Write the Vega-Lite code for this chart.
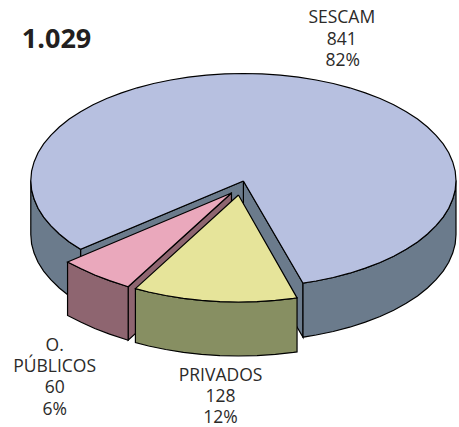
{"$schema":"https://vega.github.io/schema/vega-lite/v6.json","width":459,"height":427,"padding":0,"autosize":{"type":"fit","contains":"padding"},"background":"white","view":{"stroke":null},
"datasets":{"faces":[
{"p":"w4","c":"wall","i":1,"x":245,"y":181},{"p":"w4","c":"wall","i":2,"x":305,"y":283.2},{"p":"w4","c":"wall","i":3,"x":305,"y":337.2},{"p":"w4","c":"wall","i":4,"x":245,"y":235},{"p":"w4","c":"wall","i":5,"x":245,"y":181},
{"p":"w3","c":"wall","i":1,"x":245,"y":181},{"p":"w3","c":"wall","i":2,"x":81.1,"y":249.3},{"p":"w3","c":"wall","i":3,"x":81.1,"y":303.3},{"p":"w3","c":"wall","i":4,"x":245,"y":235},{"p":"w3","c":"wall","i":5,"x":245,"y":181},
{"p":"w1","c":"wall","i":1,"x":305,"y":283.2},{"p":"w1","c":"wall","i":2,"x":318.2,"y":281},{"p":"w1","c":"wall","i":3,"x":335.4,"y":277.5},{"p":"w1","c":"wall","i":4,"x":352,"y":273.2},{"p":"w1","c":"wall","i":5,"x":367.7,"y":268.1},{"p":"w1","c":"wall","i":6,"x":382.6,"y":262.5},{"p":"w1","c":"wall","i":7,"x":396.3,"y":256.2},{"p":"w1","c":"wall","i":8,"x":408.9,"y":249.3},{"p":"w1","c":"wall","i":9,"x":420.3,"y":241.9},{"p":"w1","c":"wall","i":10,"x":430.3,"y":234},{"p":"w1","c":"wall","i":11,"x":438.9,"y":225.7},{"p":"w1","c":"wall","i":12,"x":446.1,"y":217.1},{"p":"w1","c":"wall","i":13,"x":451.7,"y":208.2},{"p":"w1","c":"wall","i":14,"x":455.7,"y":199.1},{"p":"w1","c":"wall","i":15,"x":458.2,"y":189.8},{"p":"w1","c":"wall","i":16,"x":459,"y":180.5},{"p":"w1","c":"wall","i":17,"x":459,"y":234.5},{"p":"w1","c":"wall","i":18,"x":458.2,"y":243.8},{"p":"w1","c":"wall","i":19,"x":455.7,"y":253.1},{"p":"w1","c":"wall","i":20,"x":451.7,"y":262.2},{"p":"w1","c":"wall","i":21,"x":446.1,"y":271.1},{"p":"w1","c":"wall","i":22,"x":438.9,"y":279.7},{"p":"w1","c":"wall","i":23,"x":430.3,"y":288},{"p":"w1","c":"wall","i":24,"x":420.3,"y":295.9},{"p":"w1","c":"wall","i":25,"x":408.9,"y":303.3},{"p":"w1","c":"wall","i":26,"x":396.3,"y":310.2},{"p":"w1","c":"wall","i":27,"x":382.6,"y":316.5},{"p":"w1","c":"wall","i":28,"x":367.7,"y":322.1},{"p":"w1","c":"wall","i":29,"x":352,"y":327.2},{"p":"w1","c":"wall","i":30,"x":335.4,"y":331.5},{"p":"w1","c":"wall","i":31,"x":318.2,"y":335},{"p":"w1","c":"wall","i":32,"x":305,"y":337.2},{"p":"w1","c":"wall","i":33,"x":305,"y":283.2},
{"p":"w2","c":"wall","i":1,"x":31,"y":180.5},{"p":"w2","c":"wall","i":2,"x":31.8,"y":189.8},{"p":"w2","c":"wall","i":3,"x":34.3,"y":199.1},{"p":"w2","c":"wall","i":4,"x":38.3,"y":208.2},{"p":"w2","c":"wall","i":5,"x":43.9,"y":217.1},{"p":"w2","c":"wall","i":6,"x":51.1,"y":225.7},{"p":"w2","c":"wall","i":7,"x":59.7,"y":234},{"p":"w2","c":"wall","i":8,"x":69.7,"y":241.9},{"p":"w2","c":"wall","i":9,"x":81.1,"y":249.3},{"p":"w2","c":"wall","i":10,"x":81.1,"y":303.3},{"p":"w2","c":"wall","i":11,"x":69.7,"y":295.9},{"p":"w2","c":"wall","i":12,"x":59.7,"y":288},{"p":"w2","c":"wall","i":13,"x":51.1,"y":279.7},{"p":"w2","c":"wall","i":14,"x":43.9,"y":271.1},{"p":"w2","c":"wall","i":15,"x":38.3,"y":262.2},{"p":"w2","c":"wall","i":16,"x":34.3,"y":253.1},{"p":"w2","c":"wall","i":17,"x":31.8,"y":243.8},{"p":"w2","c":"wall","i":18,"x":31,"y":234.5},{"p":"w2","c":"wall","i":19,"x":31,"y":180.5},
{"p":"top","c":"sescam","i":1,"x":245,"y":181},{"p":"top","c":"sescam","i":2,"x":305,"y":283.2},{"p":"top","c":"sescam","i":3,"x":318.2,"y":281},{"p":"top","c":"sescam","i":4,"x":335.4,"y":277.5},{"p":"top","c":"sescam","i":5,"x":352,"y":273.2},{"p":"top","c":"sescam","i":6,"x":367.7,"y":268.1},{"p":"top","c":"sescam","i":7,"x":382.6,"y":262.5},{"p":"top","c":"sescam","i":8,"x":396.3,"y":256.2},{"p":"top","c":"sescam","i":9,"x":408.9,"y":249.3},{"p":"top","c":"sescam","i":10,"x":420.3,"y":241.9},{"p":"top","c":"sescam","i":11,"x":430.3,"y":234},{"p":"top","c":"sescam","i":12,"x":438.9,"y":225.7},{"p":"top","c":"sescam","i":13,"x":446.1,"y":217.1},{"p":"top","c":"sescam","i":14,"x":451.7,"y":208.2},{"p":"top","c":"sescam","i":15,"x":455.7,"y":199.1},{"p":"top","c":"sescam","i":16,"x":458.2,"y":189.8},{"p":"top","c":"sescam","i":17,"x":459,"y":180.5},{"p":"top","c":"sescam","i":18,"x":458.2,"y":171.2},{"p":"top","c":"sescam","i":19,"x":455.7,"y":161.9},{"p":"top","c":"sescam","i":20,"x":451.7,"y":152.8},{"p":"top","c":"sescam","i":21,"x":446.1,"y":143.9},{"p":"top","c":"sescam","i":22,"x":438.9,"y":135.3},{"p":"top","c":"sescam","i":23,"x":430.3,"y":127},{"p":"top","c":"sescam","i":24,"x":420.3,"y":119.1},{"p":"top","c":"sescam","i":25,"x":408.9,"y":111.7},{"p":"top","c":"sescam","i":26,"x":396.3,"y":104.8},{"p":"top","c":"sescam","i":27,"x":382.6,"y":98.5},{"p":"top","c":"sescam","i":28,"x":367.7,"y":92.9},{"p":"top","c":"sescam","i":29,"x":352,"y":87.8},{"p":"top","c":"sescam","i":30,"x":335.4,"y":83.5},{"p":"top","c":"sescam","i":31,"x":318.2,"y":80},{"p":"top","c":"sescam","i":32,"x":300.4,"y":77.1},{"p":"top","c":"sescam","i":33,"x":282.2,"y":75.1},{"p":"top","c":"sescam","i":34,"x":263.7,"y":73.9},{"p":"top","c":"sescam","i":35,"x":245,"y":73.5},{"p":"top","c":"sescam","i":36,"x":226.3,"y":73.9},{"p":"top","c":"sescam","i":37,"x":207.8,"y":75.1},{"p":"top","c":"sescam","i":38,"x":189.6,"y":77.1},{"p":"top","c":"sescam","i":39,"x":171.8,"y":80},{"p":"top","c":"sescam","i":40,"x":154.6,"y":83.5},{"p":"top","c":"sescam","i":41,"x":138,"y":87.8},{"p":"top","c":"sescam","i":42,"x":122.3,"y":92.9},{"p":"top","c":"sescam","i":43,"x":107.4,"y":98.5},{"p":"top","c":"sescam","i":44,"x":93.7,"y":104.8},{"p":"top","c":"sescam","i":45,"x":81.1,"y":111.7},{"p":"top","c":"sescam","i":46,"x":69.7,"y":119.1},{"p":"top","c":"sescam","i":47,"x":59.7,"y":127},{"p":"top","c":"sescam","i":48,"x":51.1,"y":135.3},{"p":"top","c":"sescam","i":49,"x":43.9,"y":143.9},{"p":"top","c":"sescam","i":50,"x":38.3,"y":152.8},{"p":"top","c":"sescam","i":51,"x":34.3,"y":161.9},{"p":"top","c":"sescam","i":52,"x":31.8,"y":171.2},{"p":"top","c":"sescam","i":53,"x":31,"y":180.5},{"p":"top","c":"sescam","i":54,"x":31.8,"y":189.8},{"p":"top","c":"sescam","i":55,"x":34.3,"y":199.1},{"p":"top","c":"sescam","i":56,"x":38.3,"y":208.2},{"p":"top","c":"sescam","i":57,"x":43.9,"y":217.1},{"p":"top","c":"sescam","i":58,"x":51.1,"y":225.7},{"p":"top","c":"sescam","i":59,"x":59.7,"y":234},{"p":"top","c":"sescam","i":60,"x":69.7,"y":241.9},{"p":"top","c":"sescam","i":61,"x":81.1,"y":249.3},{"p":"top","c":"sescam","i":62,"x":245,"y":181},
{"p":"pw2","c":"mauve","i":1,"x":129,"y":286.7},{"p":"pw2","c":"mauve","i":2,"x":233,"y":193},{"p":"pw2","c":"mauve","i":3,"x":233,"y":246.5},{"p":"pw2","c":"mauve","i":4,"x":129,"y":340.2},{"p":"pw2","c":"mauve","i":5,"x":129,"y":286.7},
{"p":"pw1","c":"mauve","i":1,"x":68,"y":262},{"p":"pw1","c":"mauve","i":2,"x":81.7,"y":268.7},{"p":"pw1","c":"mauve","i":3,"x":95.4,"y":275},{"p":"pw1","c":"mauve","i":4,"x":110.3,"y":280.6},{"p":"pw1","c":"mauve","i":5,"x":126,"y":285.7},{"p":"pw1","c":"mauve","i":6,"x":129,"y":286.7},{"p":"pw1","c":"mauve","i":7,"x":129,"y":340.2},{"p":"pw1","c":"mauve","i":8,"x":126,"y":339.2},{"p":"pw1","c":"mauve","i":9,"x":110.3,"y":334.1},{"p":"pw1","c":"mauve","i":10,"x":95.4,"y":328.5},{"p":"pw1","c":"mauve","i":11,"x":81.7,"y":322.2},{"p":"pw1","c":"mauve","i":12,"x":68,"y":315.5},{"p":"pw1","c":"mauve","i":13,"x":68,"y":262},
{"p":"pt","c":"pink","i":1,"x":233,"y":193},{"p":"pt","c":"pink","i":2,"x":68,"y":262},{"p":"pt","c":"pink","i":3,"x":81.7,"y":268.7},{"p":"pt","c":"pink","i":4,"x":95.4,"y":275},{"p":"pt","c":"pink","i":5,"x":110.3,"y":280.6},{"p":"pt","c":"pink","i":6,"x":126,"y":285.7},{"p":"pt","c":"pink","i":7,"x":129,"y":286.7},{"p":"pt","c":"pink","i":8,"x":233,"y":193},
{"p":"yw","c":"olive","i":1,"x":136.3,"y":288.6},{"p":"yw","c":"olive","i":2,"x":149.6,"y":292},{"p":"yw","c":"olive","i":3,"x":166.8,"y":295.5},{"p":"yw","c":"olive","i":4,"x":184.6,"y":298.4},{"p":"yw","c":"olive","i":5,"x":202.8,"y":300.4},{"p":"yw","c":"olive","i":6,"x":221.3,"y":301.6},{"p":"yw","c":"olive","i":7,"x":240,"y":302},{"p":"yw","c":"olive","i":8,"x":258.7,"y":301.6},{"p":"yw","c":"olive","i":9,"x":277.2,"y":300.4},{"p":"yw","c":"olive","i":10,"x":295.4,"y":298.4},{"p":"yw","c":"olive","i":11,"x":299,"y":297.9},{"p":"yw","c":"olive","i":12,"x":299,"y":351.9},{"p":"yw","c":"olive","i":13,"x":295.4,"y":352.4},{"p":"yw","c":"olive","i":14,"x":277.2,"y":354.4},{"p":"yw","c":"olive","i":15,"x":258.7,"y":355.6},{"p":"yw","c":"olive","i":16,"x":240,"y":356},{"p":"yw","c":"olive","i":17,"x":221.3,"y":355.6},{"p":"yw","c":"olive","i":18,"x":202.8,"y":354.4},{"p":"yw","c":"olive","i":19,"x":184.6,"y":352.4},{"p":"yw","c":"olive","i":20,"x":166.8,"y":349.5},{"p":"yw","c":"olive","i":21,"x":149.6,"y":346},{"p":"yw","c":"olive","i":22,"x":136.3,"y":342.6},{"p":"yw","c":"olive","i":23,"x":136.3,"y":288.6},
{"p":"yt","c":"yellow","i":1,"x":240,"y":195},{"p":"yt","c":"yellow","i":2,"x":136.3,"y":288.6},{"p":"yt","c":"yellow","i":3,"x":149.6,"y":292},{"p":"yt","c":"yellow","i":4,"x":166.8,"y":295.5},{"p":"yt","c":"yellow","i":5,"x":184.6,"y":298.4},{"p":"yt","c":"yellow","i":6,"x":202.8,"y":300.4},{"p":"yt","c":"yellow","i":7,"x":221.3,"y":301.6},{"p":"yt","c":"yellow","i":8,"x":240,"y":302},{"p":"yt","c":"yellow","i":9,"x":258.7,"y":301.6},{"p":"yt","c":"yellow","i":10,"x":277.2,"y":300.4},{"p":"yt","c":"yellow","i":11,"x":295.4,"y":298.4},{"p":"yt","c":"yellow","i":12,"x":299,"y":297.9},{"p":"yt","c":"yellow","i":13,"x":240,"y":195}
],
"labels":[
{"t":"SESCAM","x":344,"y":23},{"t":"841","x":344,"y":44.5},{"t":"82%","x":345,"y":66},
{"t":"O.","x":55,"y":351},{"t":"PÚBLICOS","x":55,"y":372},{"t":"60","x":55,"y":393},{"t":"6%","x":55,"y":415},
{"t":"PRIVADOS","x":222,"y":381},{"t":"128","x":222,"y":402},{"t":"12%","x":222,"y":423}
],
"total":[{"t":"1.029","x":22,"y":48}]},
"encoding":{"x":{"field":"x","type":"quantitative","scale":{"domain":[0,459],"nice":false,"zero":false},"axis":null},"y":{"field":"y","type":"quantitative","scale":{"domain":[427,0],"nice":false,"zero":false},"axis":null}},
"layer":[
{"data":{"name":"faces"},"mark":{"type":"line","filled":true,"stroke":"#000000","strokeWidth":1.2,"strokeJoin":"miter","clip":false},"encoding":{"detail":{"field":"p"},"order":{"field":"i","type":"quantitative"},"color":{"field":"c","type":"nominal","legend":null,"scale":{"domain":["wall","sescam","mauve","pink","olive","yellow"],"range":["#6B7B8C","#B7C0E0","#8E6570","#EAA8BC","#878F62","#E6E49A"]}}}},
{"data":{"name":"labels"},"mark":{"type":"text","font":"Open Sans","fontSize":17.5,"align":"center","baseline":"alphabetic","color":"#2b2a29"},"encoding":{"text":{"field":"t"}}},
{"data":{"name":"total"},"mark":{"type":"text","font":"Open Sans","fontWeight":"bold","fontSize":27,"align":"left","baseline":"alphabetic","color":"#231f20"},"encoding":{"text":{"field":"t"}}}
]}
